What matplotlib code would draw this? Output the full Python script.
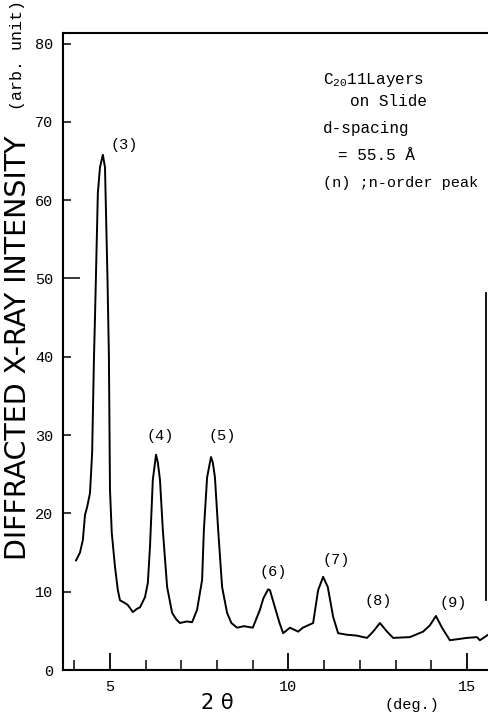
import matplotlib
matplotlib.use('Agg')
import matplotlib.pyplot as plt
from matplotlib.ticker import MultipleLocator, FixedLocator

# digitised XRD pattern (2 theta in deg., intensity in arb. unit)
two_theta = [4.05, 4.16, 4.24, 4.30, 4.36, 4.44, 4.50, 4.55, 4.58, 4.66,
             4.72, 4.80, 4.86, 4.93, 4.97, 5.00, 5.05, 5.14, 5.22, 5.28,
             5.40, 5.50, 5.64, 5.75, 5.84, 5.98, 6.06, 6.12, 6.20, 6.29,
             6.34, 6.40, 6.48, 6.60, 6.74, 6.85, 6.96, 7.15, 7.30, 7.44,
             7.58, 7.63, 7.72, 7.83, 7.88, 7.94, 8.03, 8.14, 8.28, 8.40,
             8.56, 8.75, 9.00, 9.20, 9.30, 9.43, 9.48, 9.62, 9.75, 9.85,
             10.04, 10.18, 10.27, 10.40, 10.69, 10.83, 10.97, 11.10, 11.25, 11.39,
             11.64, 11.90, 12.20, 12.37, 12.56, 12.76, 12.93, 13.40, 13.77, 13.96,
             14.13, 14.30, 14.52, 15.00, 15.28, 15.36, 15.59]
intensity = [14.0, 15.0, 16.6, 19.8, 20.8, 22.6, 27.7, 39.6, 45.0, 60.9,
             64.2, 65.8, 64.2, 50.0, 40.0, 23.0, 17.5, 13.2, 10.2, 8.9,
             8.6, 8.3, 7.4, 7.8, 8.0, 9.3, 11.1, 15.7, 24.3, 27.5,
             26.5, 24.3, 17.9, 10.6, 7.3, 6.5, 6.0, 6.2, 6.1, 7.7,
             11.5, 17.9, 24.6, 27.2, 26.5, 24.6, 17.9, 10.6, 7.3, 6.0,
             5.4, 5.6, 5.4, 7.7, 9.2, 10.3, 10.2, 8.0, 6.0, 4.7,
             5.4, 5.1, 4.9, 5.4, 6.0, 10.2, 11.9, 10.6, 6.8, 4.7,
             4.5, 4.4, 4.1, 4.9, 6.0, 4.9, 4.1, 4.2, 4.9, 5.7,
             6.9, 5.4, 3.8, 4.1, 4.2, 3.8, 4.5]

# peak order labels and where they sit
peak_labels = ["(3)", "(4)", "(5)", "(6)", "(7)", "(8)", "(9)"]
peak_x = [5.39, 6.40, 8.14, 9.57, 11.33, 12.50, 14.60]
peak_y = [67.0, 29.9, 29.9, 12.5, 14.0, 8.8, 8.6]

x_major = [5, 10, 15]
x_minor = [4, 6, 7, 8, 9, 11, 12, 13, 14]

mono = "Liberation Mono"
plt.rcParams['mathtext.fontset'] = 'custom'
plt.rcParams['mathtext.rm'] = mono
plt.rcParams['mathtext.it'] = mono

fig = plt.figure(figsize=(4.88, 7.18), dpi=100)
ax = fig.add_axes([63 / 488, 48 / 718, 425 / 488, 637 / 718])

ax.plot(two_theta, intensity, color='black', linewidth=1.4)

ax.set_xlim(3.684, 15.588)
ax.set_ylim(0, 81.35)

for side in ['left', 'bottom', 'top']:
    ax.spines[side].set_linewidth(1.5)
ax.spines['right'].set_visible(False)
# short vertical stroke on the right side of the scan
ax.axvline(15.53, ymin=8.9 / 81.35, ymax=48.1 / 81.35, color='black', linewidth=1.3)

ax.xaxis.set_major_locator(FixedLocator(x_major))
ax.xaxis.set_minor_locator(FixedLocator(x_minor))
ax.yaxis.set_major_locator(MultipleLocator(10))
ax.tick_params(axis='x', which='major', direction='in', length=12, width=1.3, pad=7)
ax.tick_params(axis='x', which='minor', direction='in', length=7, width=1.1)
ax.tick_params(axis='y', which='major', direction='in', length=6, width=1.1, pad=7)
for lab in ax.get_xticklabels() + ax.get_yticklabels():
    lab.set_fontfamily(mono)
    lab.set_fontsize(11)
for t in ax.yaxis.get_major_ticks():
    if abs(t.get_loc() - 50) < 1e-6:
        t.tick1line.set_markersize(12)

for lab, px, py in zip(peak_labels, peak_x, peak_y):
    ax.text(px, py, lab, fontfamily=mono, fontsize=11, ha='center', va='center')

# notes in the upper right
fig.text(323 / 488, 1 - 80 / 718, "C$_{20}$11Layers", fontfamily=mono, fontsize=11.5, va='center')
fig.text(350 / 488, 1 - 102 / 718, "on Slide", fontfamily=mono, fontsize=11.5, va='center')
fig.text(323 / 488, 1 - 128 / 718, "d-spacing", fontfamily=mono, fontsize=11.5, va='center')
fig.text(338 / 488, 1 - 155 / 718, "= 55.5 Å", fontfamily=mono, fontsize=11.5, va='center')
fig.text(323 / 488, 1 - 183 / 718, "(n) ;n-order peak", fontfamily=mono, fontsize=11, va='center')

# axis titles
fig.text(18 / 488, 1 - 348 / 718, "DIFFRACTED X-RAY INTENSITY", fontsize=20.5, rotation=90,
         ha='center', va='center')
fig.text(18 / 488, 1 - 55 / 718, "(arb. unit)", fontfamily=mono, fontsize=12, rotation=90,
         ha='center', va='center')
fig.text(217 / 488, 1 - 703 / 718, "2 θ", fontsize=15, ha='center', va='center')
fig.text(412 / 488, 1 - 705 / 718, "(deg.)", fontfamily=mono, fontsize=11, ha='center', va='center')

fig.savefig("out.png", dpi=100)
plt.close(fig)
